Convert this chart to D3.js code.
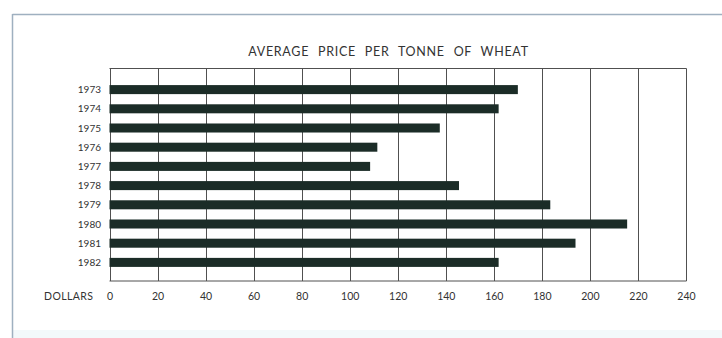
<!DOCTYPE html>
<html><head><meta charset="utf-8">
<script src="https://cdn.jsdelivr.net/npm/d3@7"></script>
<style>
html,body{margin:0;padding:0;background:#fff;}
svg{display:block;}
text{font-family:Lato,"Open Sans",sans-serif;fill:#333;}
</style></head>
<body>
<script>
const title = "AVERAGE PRICE PER TONNE OF WHEAT";
const years = ["1973","1974","1975","1976","1977","1978","1979","1980","1981","1982"];
const prices = [170, 162, 137.5, 111.5, 108.5, 145.5, 183.5, 215.5, 194, 162];
const xTicks = [0,20,40,60,80,100,120,140,160,180,200,220,240];
const xAxisLabel = "DOLLARS";

const W = 722, H = 338;
const svg = d3.select("body").append("svg").attr("width", W).attr("height", H);

// frame
svg.append("rect").attr("x",0).attr("y",0).attr("width",W).attr("height",H).attr("fill","#fff");
svg.append("rect").attr("x",13).attr("y",330).attr("width",W-13).attr("height",8).attr("fill","#f3f9fb");
svg.append("line").attr("x1",12.5).attr("x2",W).attr("y1",14.5).attr("y2",14.5).attr("stroke","#9fb0c0").attr("stroke-width",1.5);
svg.append("line").attr("x1",12.5).attr("x2",12.5).attr("y1",14).attr("y2",H).attr("stroke","#9fb0c0").attr("stroke-width",1.5);

const plotTop = 68.5, plotBottom = 281;
const x = d3.scaleLinear().domain([0,240]).range([109.5,686]);
const y = d3.scaleBand().domain(years).range([80,272]).paddingInner(0.53).paddingOuter(0.265);

// grid
const g = svg.append("g");
g.selectAll("line.v").data(xTicks).enter().append("line")
  .attr("x1",d=>Math.round(x(d))+0.5).attr("x2",d=>Math.round(x(d))+0.5)
  .attr("y1",plotTop).attr("y2",plotBottom)
  .attr("stroke","#505050").attr("stroke-width",1);
g.append("line").attr("x1",x(0)).attr("x2",x(240)+0.5).attr("y1",plotTop).attr("y2",plotTop).attr("stroke","#505050");
g.append("line").attr("x1",x(0)).attr("x2",x(240)+0.5).attr("y1",plotBottom).attr("y2",plotBottom).attr("stroke","#505050");

// bars
svg.selectAll("rect.bar").data(years).enter().append("rect")
  .attr("class","bar")
  .attr("x",x(0))
  .attr("y",d=>y(d))
  .attr("width",(d,i)=>x(prices[i])-x(0))
  .attr("height",y.bandwidth())
  .attr("fill","#1b2c27");

// year labels
svg.selectAll("text.yl").data(years).enter().append("text")
  .attr("x",101).attr("y",d=>y(d)+y.bandwidth()/2+3.5)
  .attr("text-anchor","end").attr("font-size",10)
  .text(d=>d);

// x tick labels
const xa = svg.append("g").attr("transform",`translate(0,${plotBottom})`)
  .call(d3.axisBottom(x).tickValues(xTicks).tickSize(0).tickPadding(12));
xa.select(".domain").remove();
xa.selectAll("text").attr("font-size",10.5).attr("font-family","Lato,'Open Sans',sans-serif").attr("fill","#333");

svg.append("text").attr("x",44).attr("y",300).attr("font-size",10.5).attr("letter-spacing",0.4).text(xAxisLabel);

svg.append("text").attr("x",388.5).attr("y",55.5).attr("text-anchor","middle")
  .attr("font-size",12.5).attr("letter-spacing",0.7).attr("word-spacing",5).text(title);
</script>
</body></html>
